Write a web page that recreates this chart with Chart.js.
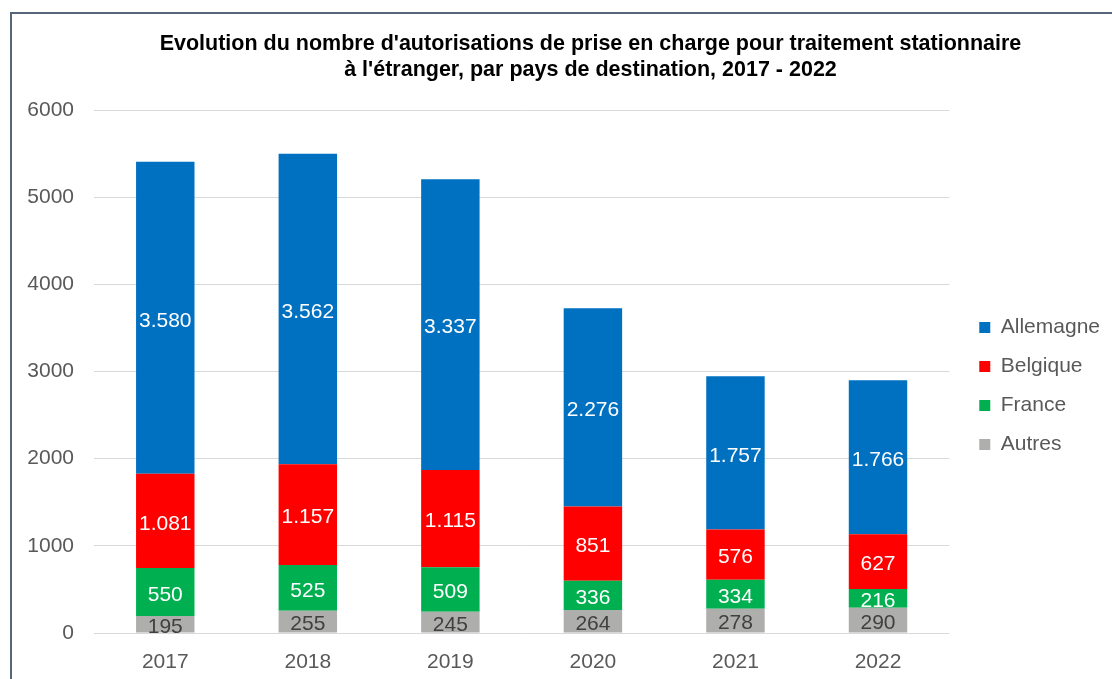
<!DOCTYPE html>
<html>
<head>
<meta charset="utf-8">
<script src="https://cdn.jsdelivr.net/npm/chart.js@4"></script>
<style>
  html, body { margin: 0; padding: 0; background: #fff; }
  #wrap { position: relative; width: 1112px; height: 679px; overflow: hidden; }
  #frame { position: absolute; left: 10px; top: 12px; width: 1200px; height: 800px; border: 2px solid #55657a; }
  #chart { position: absolute; left: 0; top: 0; }
</style>
</head>
<body>
<div id="wrap">
  <div id="frame"></div>
  <canvas id="chart" width="1112" height="679"></canvas>
</div>
<script>
// données 2017 - 2022
const annees = ['2017', '2018', '2019', '2020', '2021', '2022'];
const allemagne = [3580, 3562, 3337, 2276, 1757, 1766];
const belgique = [1081, 1157, 1115, 851, 576, 627];
const france = [550, 525, 509, 336, 334, 216];
const autres = [195, 255, 245, 264, 278, 290];
const yTicks = [0, 1000, 2000, 3000, 4000, 5000, 6000];

const police = "'Liberation Sans', Arial, sans-serif";

// 3580 -> "3.580"
function fmt(v) {
  return String(v).replace(/\B(?=(\d{3})+(?!\d))/g, '.');
}

// valeurs au milieu de chaque segment
const valeurs = {
  id: 'valeurs',
  afterDatasetsDraw(chart) {
    const ctx = chart.ctx;
    ctx.save();
    ctx.font = '21px ' + police;
    ctx.textAlign = 'center';
    ctx.textBaseline = 'middle';
    chart.data.datasets.forEach((ds, i) => {
      const meta = chart.getDatasetMeta(i);
      ctx.fillStyle = ds.labelColor;
      meta.data.forEach((bar, j) => {
        const p = bar.getCenterPoint();
        ctx.fillText(fmt(ds.data[j]), p.x, p.y + 3);
      });
    });
    ctx.restore();
  }
};

// petits decalages du titre et de la legende
const placement = {
  id: 'placement',
  afterLayout(chart) {
    chart.titleBlock.left += 83;
    const lg = chart.legend;
    lg.left = chart.chartArea.right + 12;
    lg.right = chart.width;
    lg.width = lg.right - lg.left;
    lg.top = 299;
    lg.bottom = 660;
  }
};

const ctx = document.getElementById('chart');
new Chart(ctx, {
  type: 'bar',
  data: {
    labels: annees,
    datasets: [
      { label: 'Autres', data: autres, backgroundColor: '#aeaeac', labelColor: '#404040' },
      { label: 'France', data: france, backgroundColor: '#00b050', labelColor: '#ffffff' },
      { label: 'Belgique', data: belgique, backgroundColor: '#ff0000', labelColor: '#ffffff' },
      { label: 'Allemagne', data: allemagne, backgroundColor: '#0070c0', labelColor: '#ffffff' }
    ]
  },
  options: {
    responsive: false,
    animation: false,
    categoryPercentage: 1,
    barPercentage: 0.41,
    layout: { padding: { left: 0, right: 14, top: 0, bottom: 0 } },
    scales: {
      x: {
        stacked: true,
        grid: { display: false, drawTicks: false },
        border: { display: false },
        ticks: { color: '#595959', font: { family: police, size: 21 }, padding: 17 },
        afterFit(scale) { scale.height = 46; }
      },
      y: {
        stacked: true,
        min: 0,
        max: 6000,
        afterBuildTicks(scale) { scale.ticks = yTicks.map(v => ({ value: v })); },
        grid: { color: '#d9d9d9', lineWidth: 1, drawTicks: false },
        border: { display: false },
        ticks: {
          color: '#595959',
          font: { family: police, size: 21 },
          padding: 20,
          callback: v => String(v)
        },
        afterFit(scale) { scale.width = 94; }
      }
    },
    plugins: {
      title: {
        display: true,
        text: ["Evolution du nombre d'autorisations de prise en charge pour traitement stationnaire",
               "à l'étranger, par pays de destination, 2017 - 2022"],
        color: '#000000',
        font: { family: police, size: 21.5, weight: 'bold', lineHeight: 1.17 },
        padding: { top: 32, bottom: 27.7 }
      },
      legend: {
        position: 'right',
        align: 'start',
        reverse: true,
        labels: {
          boxWidth: 11,
          boxHeight: 11,
          padding: 18,
          color: '#595959',
          font: { family: police, size: 21 }
        }
      },
      tooltip: { enabled: false }
    }
  },
  plugins: [valeurs, placement]
});
</script>
</body>
</html>
